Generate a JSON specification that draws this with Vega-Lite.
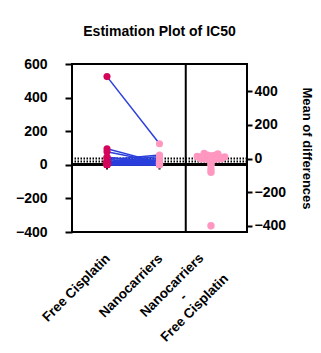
{
  "$schema": "https://vega.github.io/schema/vega-lite/v6.json",
  "autosize": {"type": "none"},
  "padding": {"left": 72, "top": 64, "right": 74, "bottom": 121},
  "width": 175,
  "height": 168,
  "background": "white",
  "title": {"text": "Estimation Plot of IC50", "anchor": "middle", "frame": "group", "offset": 18, "fontSize": 14, "fontWeight": "bold", "font": "Liberation Sans", "color": "black"},
  "datasets": {
    "pairs": [
      {"id": 0, "fc": 525, "nc": 125, "diff": -400},
      {"id": 1, "fc": 95, "nc": 13, "diff": -82},
      {"id": 2, "fc": 78, "nc": 15, "diff": -63},
      {"id": 3, "fc": 45, "nc": 15, "diff": -30},
      {"id": 4, "fc": 30, "nc": 58, "diff": 28},
      {"id": 5, "fc": 20, "nc": 50, "diff": 30},
      {"id": 6, "fc": 18, "nc": 38, "diff": 20},
      {"id": 7, "fc": 12, "nc": 30, "diff": 18},
      {"id": 8, "fc": 10, "nc": 25, "diff": 15},
      {"id": 9, "fc": 8, "nc": 20, "diff": 12},
      {"id": 10, "fc": 12, "nc": 22, "diff": 10},
      {"id": 11, "fc": 10, "nc": 18, "diff": 8},
      {"id": 12, "fc": 8, "nc": 15, "diff": 7},
      {"id": 13, "fc": 45, "nc": 5, "diff": -40},
      {"id": 14, "fc": 12, "nc": 8, "diff": -4},
      {"id": 15, "fc": 7, "nc": 4, "diff": -3},
      {"id": 16, "fc": 9, "nc": 7, "diff": -2},
      {"id": 17, "fc": 6, "nc": 5, "diff": -1},
      {"id": 18, "fc": 5, "nc": 6, "diff": 1},
      {"id": 19, "fc": 4, "nc": 3, "diff": -1},
      {"id": 20, "fc": 3, "nc": 5, "diff": 2},
      {"id": 21, "fc": 2, "nc": 1, "diff": -1},
      {"id": 22, "fc": 2, "nc": 3, "diff": 1},
      {"id": 23, "fc": 1, "nc": 2, "diff": 1},
      {"id": 24, "fc": 1, "nc": 0.5, "diff": -0.5},
      {"id": 25, "fc": 0.5, "nc": 1, "diff": 0.5}
    ]
  },
  "data": {"name": "pairs"},
  "layer": [
    {
      "mark": {"type": "rule", "color": "black", "strokeWidth": 2},
      "encoding": {
        "y": {"datum": 0, "type": "quantitative", "scale": {"domain": [-400, 600], "nice": false, "zero": false},
          "axis": {"orient": "left", "values": [-400, -200, 0, 200, 400, 600], "title": null, "tickSize": 7, "labelPadding": 18}}
      }
    },
    {
      "transform": [
        {"fold": ["fc", "nc"], "as": ["key", "value"]},
        {"aggregate": [{"op": "mean", "field": "value", "as": "m"}], "groupby": ["key"]}
      ],
      "mark": {"type": "rule", "color": "black", "strokeWidth": 2, "strokeDash": [1.5, 1.5]},
      "encoding": {
        "y": {"field": "m", "type": "quantitative", "scale": {"domain": [-400, 600], "nice": false, "zero": false}, "axis": null}
      }
    },
    {
      "transform": [
        {"fold": ["fc", "nc"], "as": ["key", "value"]},
        {"aggregate": [{"op": "count", "as": "n"}], "groupby": ["key"]}
      ],
      "mark": {"type": "rule", "color": "black", "strokeWidth": 2},
      "encoding": {
        "x": {"field": "key", "type": "nominal", "scale": {"type": "band", "domain": ["fc", "nc", "diff"], "paddingInner": 0, "paddingOuter": 0.1667},
          "axis": {
            "title": null, "ticks": false, "labelAngle": -45, "labelFontSize": 13.5,
            "labelAlign": {"condition": {"test": "datum.value == 'diff'", "value": "center"}, "value": "right"},
            "labelPadding": {"condition": {"test": "datum.value == 'diff'", "value": 53}, "value": 24},
            "labelOffset": {"condition": {"test": "datum.value == 'diff'", "value": -40}, "value": 1},
            "labelBaseline": "middle", "labelLineHeight": 16, "labelOverlap": false, "labelBound": false,
            "labelExpr": "datum.value == 'fc' ? 'Free Cisplatin' : (datum.value == 'nc' ? 'Nanocarriers' : ['Nanocarriers', '-', 'Free Cisplatin'])"
          }},
        "y": {"datum": 0, "type": "quantitative", "scale": {"domain": [-400, 600], "nice": false, "zero": false}, "axis": null},
        "y2": {"datum": -28}
      }
    },
    {
      "transform": [{"fold": ["fc", "nc"], "as": ["key", "value"]}],
      "mark": {"type": "line", "color": "#2a3fdc", "strokeWidth": 1.5},
      "encoding": {
        "x": {"field": "key", "type": "nominal", "scale": {"type": "band", "domain": ["fc", "nc", "diff"], "paddingInner": 0, "paddingOuter": 0.1667}, "axis": null},
        "y": {"field": "value", "type": "quantitative", "scale": {"domain": [-400, 600], "nice": false, "zero": false}, "axis": null},
        "detail": {"field": "id", "type": "nominal"}
      }
    },
    {
      "transform": [{"fold": ["fc", "nc"], "as": ["key", "value"]}],
      "mark": {"type": "circle", "size": 50, "opacity": 1},
      "encoding": {
        "x": {"field": "key", "type": "nominal", "scale": {"type": "band", "domain": ["fc", "nc", "diff"], "paddingInner": 0, "paddingOuter": 0.1667}, "axis": null},
        "y": {"field": "value", "type": "quantitative", "scale": {"domain": [-400, 600], "nice": false, "zero": false}, "axis": null},
        "color": {"field": "key", "type": "nominal", "scale": {"domain": ["fc", "nc"], "range": ["#d4045a", "#ff97c0"]}, "legend": null}
      }
    },
    {
      "data": {"values": [{"key": "diff"}]},
      "mark": {"type": "rule", "color": "black", "strokeWidth": 2},
      "encoding": {
        "x": {"field": "key", "type": "nominal", "bandPosition": 0, "scale": {"type": "band", "domain": ["fc", "nc", "diff"], "paddingInner": 0, "paddingOuter": 0.1667}, "axis": null}
      }
    },
    {
      "transform": [
        {"bin": {"step": 15}, "field": "diff", "as": "dbin"},
        {"window": [{"op": "row_number", "as": "rank"}], "groupby": ["dbin"], "sort": [{"field": "diff"}]}
      ],
      "mark": {"type": "circle", "size": 55, "opacity": 1, "color": "#ff97c0"},
      "encoding": {
        "x": {"field": "rank", "type": "ordinal", "scale": {"type": "point", "padding": 0.5, "domain": [1001, 1002, 1003, 1004, 1005, 1006, 1007, 1008, 1009, 1010, 1011, 1012, 1013, 1014, 1015, 1016, 1017, 1018, 1019, 1020, 1021, 1022, 1023, 1024, 1025, 1026, 1027, 1028, 1029, 1030, 1031, 1032, 1033, 1034, 1035, 1036, 9, 7, 5, 3, 1, 2, 4, 6, 8, 2001, 2002, 2003, 2004, 2005, 2006]}, "axis": null},
        "y": {"field": "diff", "type": "quantitative", "scale": {"domain": [-437.25, 562.75], "nice": false, "zero": false},
          "axis": {"orient": "right", "values": [-400, -200, 0, 200, 400], "title": "Mean of differences", "titleFontSize": 13, "titleFontWeight": "bold", "titlePadding": 14, "tickSize": 5, "labelPadding": 2}}
      }
    }
  ],
  "resolve": {"scale": {"x": "independent", "y": "independent", "color": "independent"}},
  "config": {
    "font": "Liberation Sans",
    "view": {"stroke": "black", "strokeWidth": 2},
    "axis": {"labelFont": "Liberation Sans", "labelFontSize": 14, "labelFontWeight": "bold", "labelColor": "black", "titleFont": "Liberation Sans", "titleColor": "black", "grid": false, "domain": false, "tickColor": "black", "tickWidth": 2}
  }
}
